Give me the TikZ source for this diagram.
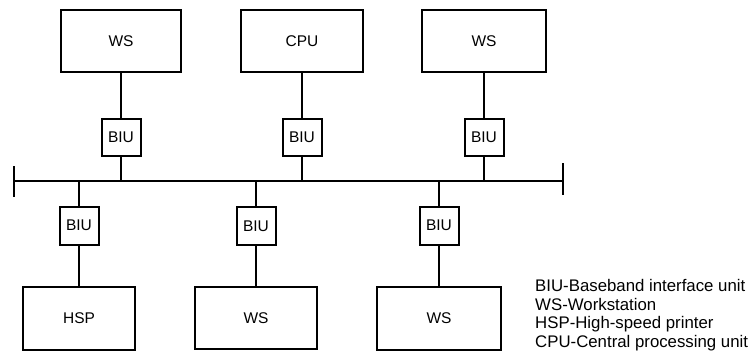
\documentclass[tikz,border=0pt]{standalone}
\usepackage{fontspec}
\setmainfont{Liberation Sans}
\usepackage{tikz}
\usetikzlibrary{positioning,calc}

\begin{document}
\begin{tikzpicture}[
    x=1pt, y=-1pt,
    font=\fontsize{15.5}{17}\selectfont,
    unit_block/.style={rectangle, draw, line width=2pt, minimum width=122pt, minimum height=62pt, inner sep=0pt},
    biu_block/.style={rectangle, draw, line width=2pt, minimum width=39pt, minimum height=37pt, inner sep=0pt},
    line/.style={draw, line width=2pt}
]
\useasboundingbox (0,0) rectangle (751,354);

% Nodes
\node[unit_block, minimum width=120pt] (ws_a) at (121,41) {WS};
\node[unit_block] (cpu) at (302,41) {CPU};
\node[unit_block, minimum width=124pt] (ws_b) at (484,41) {WS};

\node[biu_block, below=45pt of ws_a] (biu_a) {BIU};
\node[biu_block, below=45pt of cpu] (biu_b) {BIU};
\node[biu_block, below=45pt of ws_b] (biu_c) {BIU};

\coordinate (bus_l) at (14,181);
\coordinate (bus_r) at (563,181);

\node[unit_block, minimum width=112pt, minimum height=63pt] (hsp) at (79,318) {HSP};
\node[unit_block] (ws_c) at (256,318) {WS};
\node[unit_block, minimum width=124pt, minimum height=63pt] (ws_d) at (439,318) {WS};

\node[biu_block, minimum height=38pt, above=40pt of hsp] (biu_d) {BIU};
\node[biu_block, minimum height=38pt, above=40pt of ws_c] (biu_e) {BIU};
\node[biu_block, minimum height=38pt, above=40pt of ws_d] (biu_f) {BIU};

\node[anchor=north west, inner sep=0pt, align=left, font=\fontsize{16.8}{18.7}\selectfont] (legend) at (535,279)
  {BIU-Baseband interface unit\\WS-Workstation\\HSP-High-speed printer\\CPU-Central processing unit};

% Connections
\path[line] (bus_l) -- (bus_r);
\path[line] ($(bus_l)+(0,-15)$) -- ($(bus_l)+(0,16)$);
\path[line] ($(bus_r)+(0,-18)$) -- ($(bus_r)+(0,14)$);

\foreach \top/\biu in {ws_a/biu_a, cpu/biu_b, ws_b/biu_c} {
  \path[line] (\top.south) -- (\biu.north);
  \path[line] (\biu.south) -- (\biu.south |- bus_l);
}
\foreach \bot/\biu in {hsp/biu_d, ws_c/biu_e, ws_d/biu_f} {
  \path[line] (\biu.south) -- (\bot.north);
  \path[line] (\biu.north) -- (\biu.north |- bus_l);
}

\end{tikzpicture}
\end{document}
